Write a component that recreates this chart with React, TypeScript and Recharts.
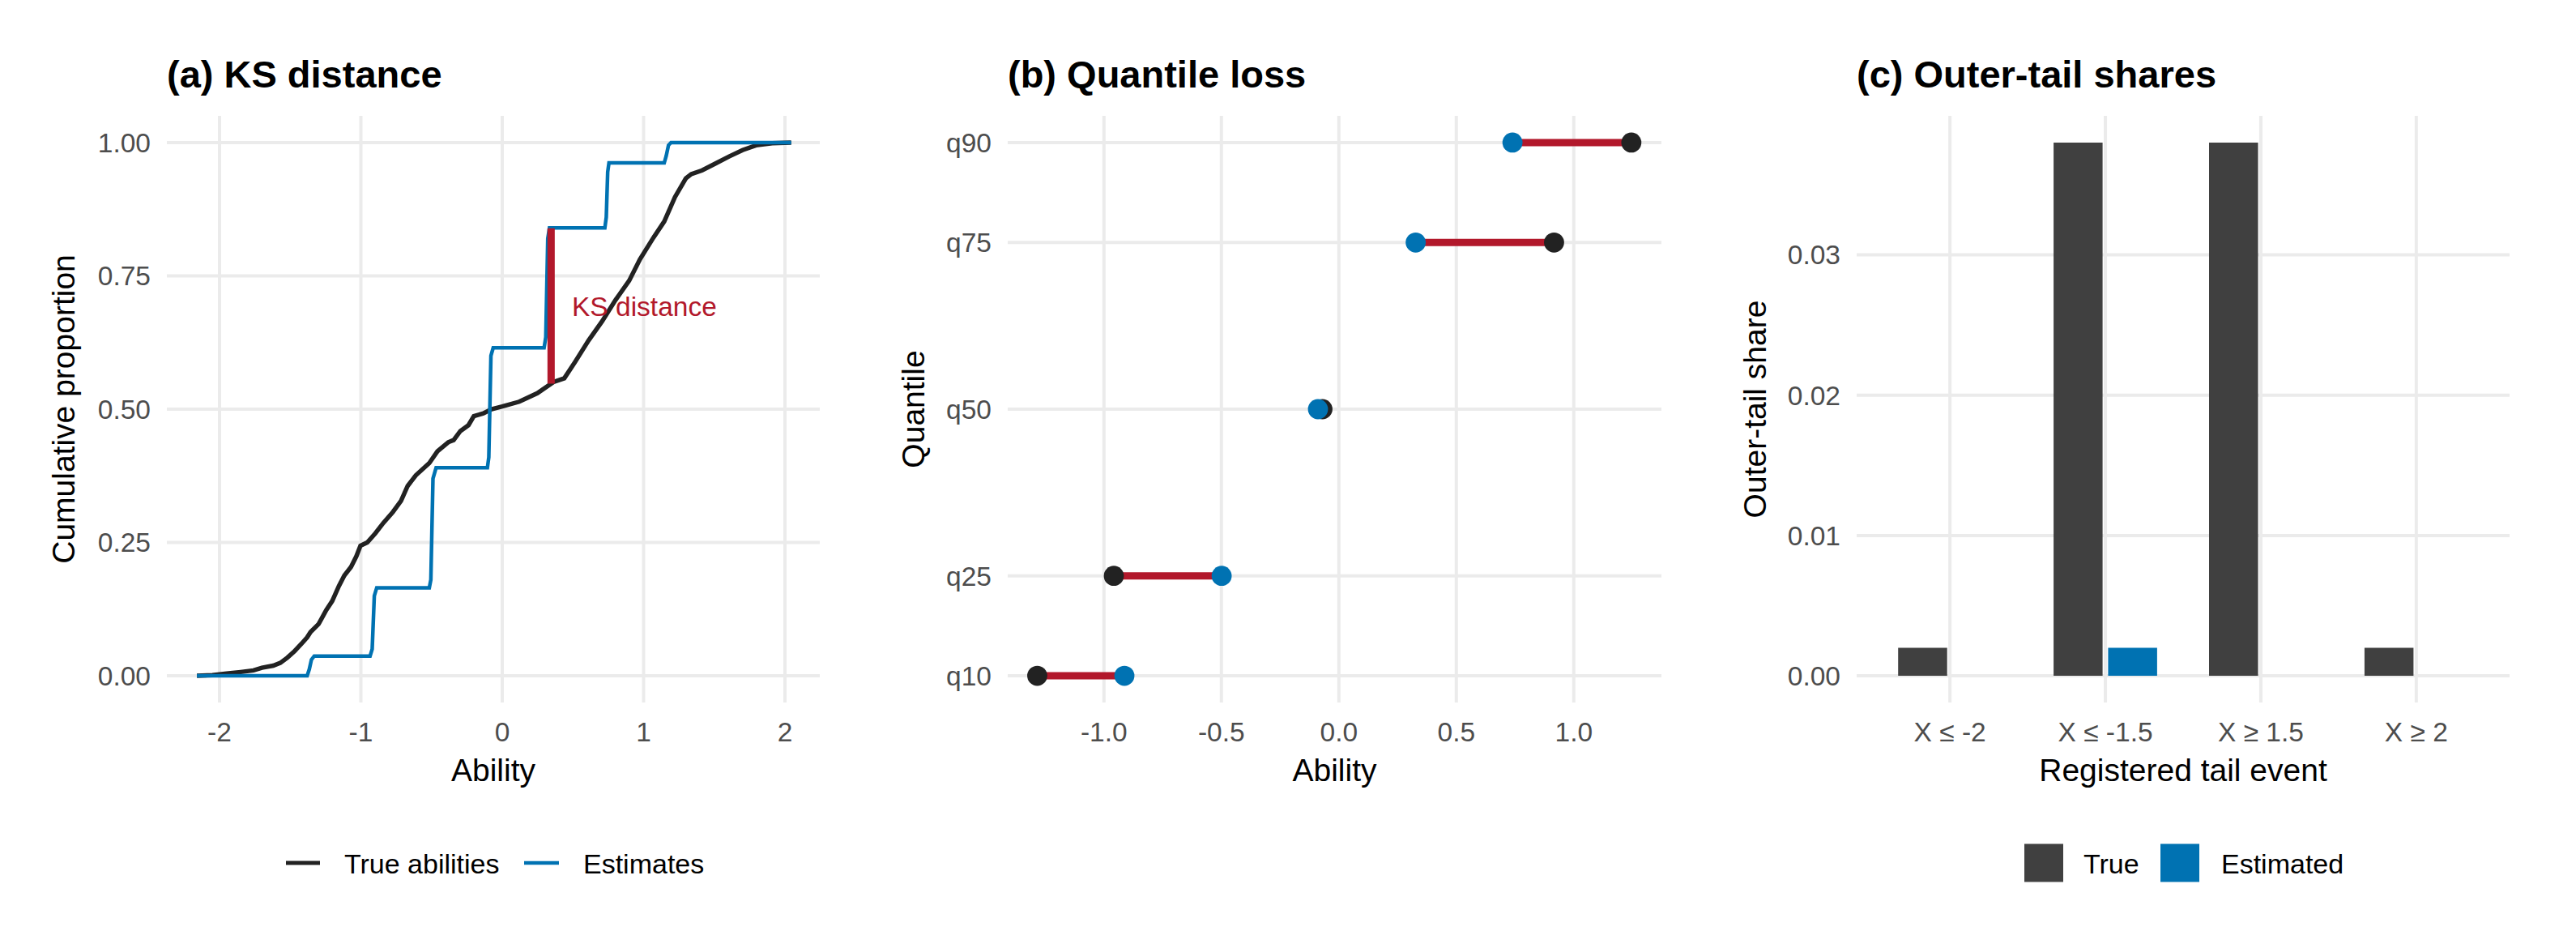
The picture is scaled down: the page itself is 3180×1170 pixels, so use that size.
import React from 'react';
import { ComposedChart, BarChart, Bar, Line, Scatter, XAxis, YAxis, CartesianGrid } from 'recharts';

const FONT = '"Liberation Sans", Arial, Helvetica, sans-serif';
const GRID = '#EBEBEB';
const TICK = '#4D4D4D';
const BLACK = '#222222';
const BLUE = '#0072B2';
const RED = '#B2182B';
const BAR_DARK = '#404040';

// ---------- Panel (a): ECDFs ----------
const trueX = [-2.16, -2.05, -1.95, -1.85, -1.76, -1.7, -1.62, -1.57, -1.52, -1.47, -1.42, -1.38, -1.356, -1.299, -1.245, -1.203, -1.156, -1.117, -1.07, -1.032, -1.003, -0.955, -0.898, -0.84, -0.774, -0.716, -0.669, -0.611, -0.516, -0.458, -0.382, -0.344, -0.296, -0.239, -0.201, -0.134, -0.076, 0.0, 0.12, 0.248, 0.363, 0.439, 0.516, 0.611, 0.707, 0.802, 0.898, 0.974, 1.07, 1.146, 1.222, 1.299, 1.337, 1.414, 1.509, 1.605, 1.7, 1.795, 1.91, 2.044];
const trueY = [0.0, 0.001, 0.004, 0.007, 0.01, 0.015, 0.019, 0.024, 0.034, 0.046, 0.06, 0.072, 0.082, 0.097, 0.123, 0.14, 0.168, 0.188, 0.204, 0.224, 0.244, 0.25, 0.267, 0.287, 0.307, 0.328, 0.356, 0.376, 0.399, 0.421, 0.438, 0.442, 0.459, 0.47, 0.487, 0.492, 0.5, 0.505, 0.514, 0.53, 0.551, 0.558, 0.589, 0.629, 0.665, 0.705, 0.741, 0.781, 0.822, 0.852, 0.898, 0.933, 0.941, 0.948, 0.961, 0.974, 0.986, 0.995, 0.999, 1.0];

const estX = [-2.16, -1.38, -1.365, -1.35, -1.33, -0.935, -0.92, -0.905, -0.888, -0.516, -0.505, -0.49, -0.468, -0.105, -0.095, -0.08, -0.064, 0.296, 0.308, 0.322, 0.334, 0.726, 0.736, 0.746, 0.755, 1.146, 1.16, 1.176, 1.194, 2.044];
const estY = [0.0, 0.0, 0.012, 0.03, 0.037, 0.037, 0.05, 0.15, 0.165, 0.165, 0.18, 0.37, 0.39, 0.39, 0.41, 0.6, 0.615, 0.615, 0.635, 0.82, 0.84, 0.84, 0.86, 0.945, 0.962, 0.962, 0.975, 0.995, 1.0, 1.0];

const ksX = 0.3457;
const ksLow = 0.548;
const ksHigh = 0.8394;
const ksLabelX = 0.493;
const ksLabelY = 0.693;
const abilityTicksA = [-2, -1, 0, 1, 2];
const cumTicks = [0, 0.25, 0.5, 0.75, 1];

// ---------- Panel (b): quantiles ----------
const quantileLevels = [0.1, 0.25, 0.5, 0.75, 0.9];
const quantileLabels = ['q10', 'q25', 'q50', 'q75', 'q90'];
const trueQuantiles = [-1.284, -0.958, -0.07, 0.916, 1.245];
const estQuantiles = [-0.913, -0.499, -0.089, 0.327, 0.739];
const abilityTicksB = [-1, -0.5, 0, 0.5, 1];

// ---------- Panel (c): tail shares ----------
const tailEvents = ['X ≤ -2', 'X ≤ -1.5', 'X ≥ 1.5', 'X ≥ 2'];
const trueShares = [0.002, 0.038, 0.038, 0.002];
const estShares = [0, 0.002, 0, 0];
const shareTicks = [0, 0.01, 0.02, 0.03];

const trueEcdf = trueX.map((x, i) => ({ x, y: trueY[i] }));
const estEcdf = estX.map((x, i) => ({ x, y: estY[i] }));
const ksSegment = [{ x: ksX, y: ksLow }, { x: ksX, y: ksHigh }];
const ksLabel = [{ x: ksLabelX, y: ksLabelY }];

const trueQPoints = quantileLevels.map((q, i) => ({ x: trueQuantiles[i], y: q }));
const estQPoints = quantileLevels.map((q, i) => ({ x: estQuantiles[i], y: q }));
const qSegments = quantileLevels.map((q, i) => [
  { x: trueQuantiles[i], y: q },
  { x: estQuantiles[i], y: q },
]);

const tailData = tailEvents.map((e, i) => ({ event: e, trueShare: trueShares[i], estShare: estShares[i] }));

const TICK_STYLE = { fontSize: 33.5, fill: TICK, fontFamily: FONT };
const TITLE_SIZE = 47;
const AXIS_TITLE_SIZE = 39;
const LEGEND_SIZE = 34;

const dot = (color: string) => (p: any) => (
  <circle cx={p.cx} cy={p.cy} r={12.4} fill={color} />
);

const ksText = (p: any) => (
  <text x={p.cx} y={p.cy} dy="0.36em" fill={RED} fontSize={33.5} fontFamily={FONT} textAnchor="start">
    KS distance
  </text>
);

function PanelA() {
  return (
    <ComposedChart width={1060} height={1170} margin={{ top: 143, right: 48, bottom: 243, left: 146 }}>
      <CartesianGrid stroke={GRID} strokeWidth={4} syncWithTicks />
      <XAxis
        type="number"
        dataKey="x"
        domain={[-2.3725, 2.2464]}
        allowDataOverflow
        ticks={abilityTicksA}
        interval={0}
        tickFormatter={(v: number) => String(v)}
        axisLine={false}
        tickLine={false}
        tickSize={0}
        tickMargin={24}
        height={60}
        tick={TICK_STYLE}
      />
      <YAxis
        type="number"
        domain={[-0.0502, 1.0502]}
        allowDataOverflow
        ticks={cumTicks}
        interval={0}
        tickFormatter={(v: number) => v.toFixed(2)}
        axisLine={false}
        tickLine={false}
        tickSize={0}
        tickMargin={20}
        width={60}
        tick={TICK_STYLE}
      />
      <Line data={trueEcdf} dataKey="y" type="linear" stroke={BLACK} strokeWidth={5.5} dot={false} activeDot={false} isAnimationActive={false} />
      <Line data={estEcdf} dataKey="y" type="linear" stroke={BLUE} strokeWidth={4.5} dot={false} activeDot={false} isAnimationActive={false} />
      <Line data={ksSegment} dataKey="y" type="linear" stroke={RED} strokeWidth={9} dot={false} activeDot={false} isAnimationActive={false} />
      <Scatter data={ksLabel} dataKey="y" shape={ksText} isAnimationActive={false} />
    </ComposedChart>
  );
}

function PanelB() {
  return (
    <ComposedChart width={1060} height={1170} margin={{ top: 143, right: 69, bottom: 243, left: 124 }}>
      <CartesianGrid stroke={GRID} strokeWidth={4} syncWithTicks />
      <XAxis
        type="number"
        dataKey="x"
        domain={[-1.4097, 1.3731]}
        allowDataOverflow
        ticks={abilityTicksB}
        interval={0}
        tickFormatter={(v: number) => v.toFixed(1)}
        axisLine={false}
        tickLine={false}
        tickSize={0}
        tickMargin={24}
        height={60}
        tick={TICK_STYLE}
      />
      <YAxis
        type="number"
        domain={[0.06, 0.94]}
        allowDataOverflow
        ticks={quantileLevels}
        interval={0}
        tickFormatter={(v: number) => quantileLabels[quantileLevels.indexOf(v)] ?? ''}
        axisLine={false}
        tickLine={false}
        tickSize={0}
        tickMargin={20}
        width={60}
        tick={TICK_STYLE}
      />
      {qSegments.map((seg, i) => (
        <Line key={'seg' + i} data={seg} dataKey="y" type="linear" stroke={RED} strokeWidth={9} dot={false} activeDot={false} isAnimationActive={false} />
      ))}
      <Scatter data={trueQPoints} dataKey="y" shape={dot(BLACK)} isAnimationActive={false} />
      <Scatter data={estQPoints} dataKey="y" shape={dot(BLUE)} isAnimationActive={false} />
    </ComposedChart>
  );
}

function PanelC() {
  return (
    <BarChart width={1060} height={1170} data={tailData} margin={{ top: 143, right: 82, bottom: 243, left: 112 }} barGap={6.8} barSize={60.5}>
      <CartesianGrid stroke={GRID} strokeWidth={4} syncWithTicks />
      <XAxis
        dataKey="event"
        padding={{ left: 19.2, right: 19.2 }}
        interval={0}
        axisLine={false}
        tickLine={false}
        tickSize={0}
        tickMargin={24}
        height={60}
        tick={TICK_STYLE}
      />
      <YAxis
        type="number"
        domain={[-0.0019, 0.0399]}
        allowDataOverflow
        ticks={shareTicks}
        interval={0}
        tickFormatter={(v: number) => v.toFixed(2)}
        axisLine={false}
        tickLine={false}
        tickSize={0}
        tickMargin={20}
        width={60}
        tick={TICK_STYLE}
      />
      <Bar dataKey="trueShare" fill={BAR_DARK} barSize={60.5} isAnimationActive={false} />
      <Bar dataKey="estShare" fill={BLUE} barSize={60.5} isAnimationActive={false} />
    </BarChart>
  );
}

function Overlay() {
  const title = { fontSize: TITLE_SIZE, fontWeight: 700, fill: '#000', fontFamily: FONT };
  const axTitle = { fontSize: AXIS_TITLE_SIZE, fill: '#000', fontFamily: FONT };
  const leg = { fontSize: LEGEND_SIZE, fill: '#000', fontFamily: FONT };
  return (
    <svg width={3180} height={1170} style={{ position: 'absolute', left: 0, top: 0, pointerEvents: 'none' }}>
      <text x={206} y={108} {...title}>(a) KS distance</text>
      <text x={1244} y={108} {...title}>(b) Quantile loss</text>
      <text x={2292} y={108} {...title}>(c) Outer-tail shares</text>

      <text x={609} y={964} textAnchor="middle" {...axTitle}>Ability</text>
      <text x={1647.5} y={964} textAnchor="middle" {...axTitle}>Ability</text>
      <text x={2695} y={964} textAnchor="middle" {...axTitle}>Registered tail event</text>

      <text transform="translate(92,505) rotate(-90)" textAnchor="middle" {...axTitle}>Cumulative proportion</text>
      <text transform="translate(1141,505) rotate(-90)" textAnchor="middle" {...axTitle}>Quantile</text>
      <text transform="translate(2180,505) rotate(-90)" textAnchor="middle" {...axTitle}>Outer-tail share</text>

      <line x1={353} x2={395} y1={1065} y2={1065} stroke={BLACK} strokeWidth={5} />
      <text x={425} y={1078} {...leg}>True abilities</text>
      <line x1={647} x2={690} y1={1065} y2={1065} stroke={BLUE} strokeWidth={4.5} />
      <text x={720} y={1078} {...leg}>Estimates</text>

      <rect x={2499} y={1041.5} width={48} height={47} fill={BAR_DARK} />
      <text x={2572} y={1078} {...leg}>True</text>
      <rect x={2667} y={1041.5} width={48} height={47} fill={BLUE} />
      <text x={2742} y={1078} {...leg}>Estimated</text>
    </svg>
  );
}

export default function App() {
  return (
    <div style={{ position: 'absolute', left: 0, top: 0, width: 3180, height: 1170, background: '#fff', fontFamily: FONT }}>
      <div style={{ position: 'absolute', left: 0, top: 0 }}><PanelA /></div>
      <div style={{ position: 'absolute', left: 1060, top: 0 }}><PanelB /></div>
      <div style={{ position: 'absolute', left: 2120, top: 0 }}><PanelC /></div>
      <Overlay />
    </div>
  );
}
